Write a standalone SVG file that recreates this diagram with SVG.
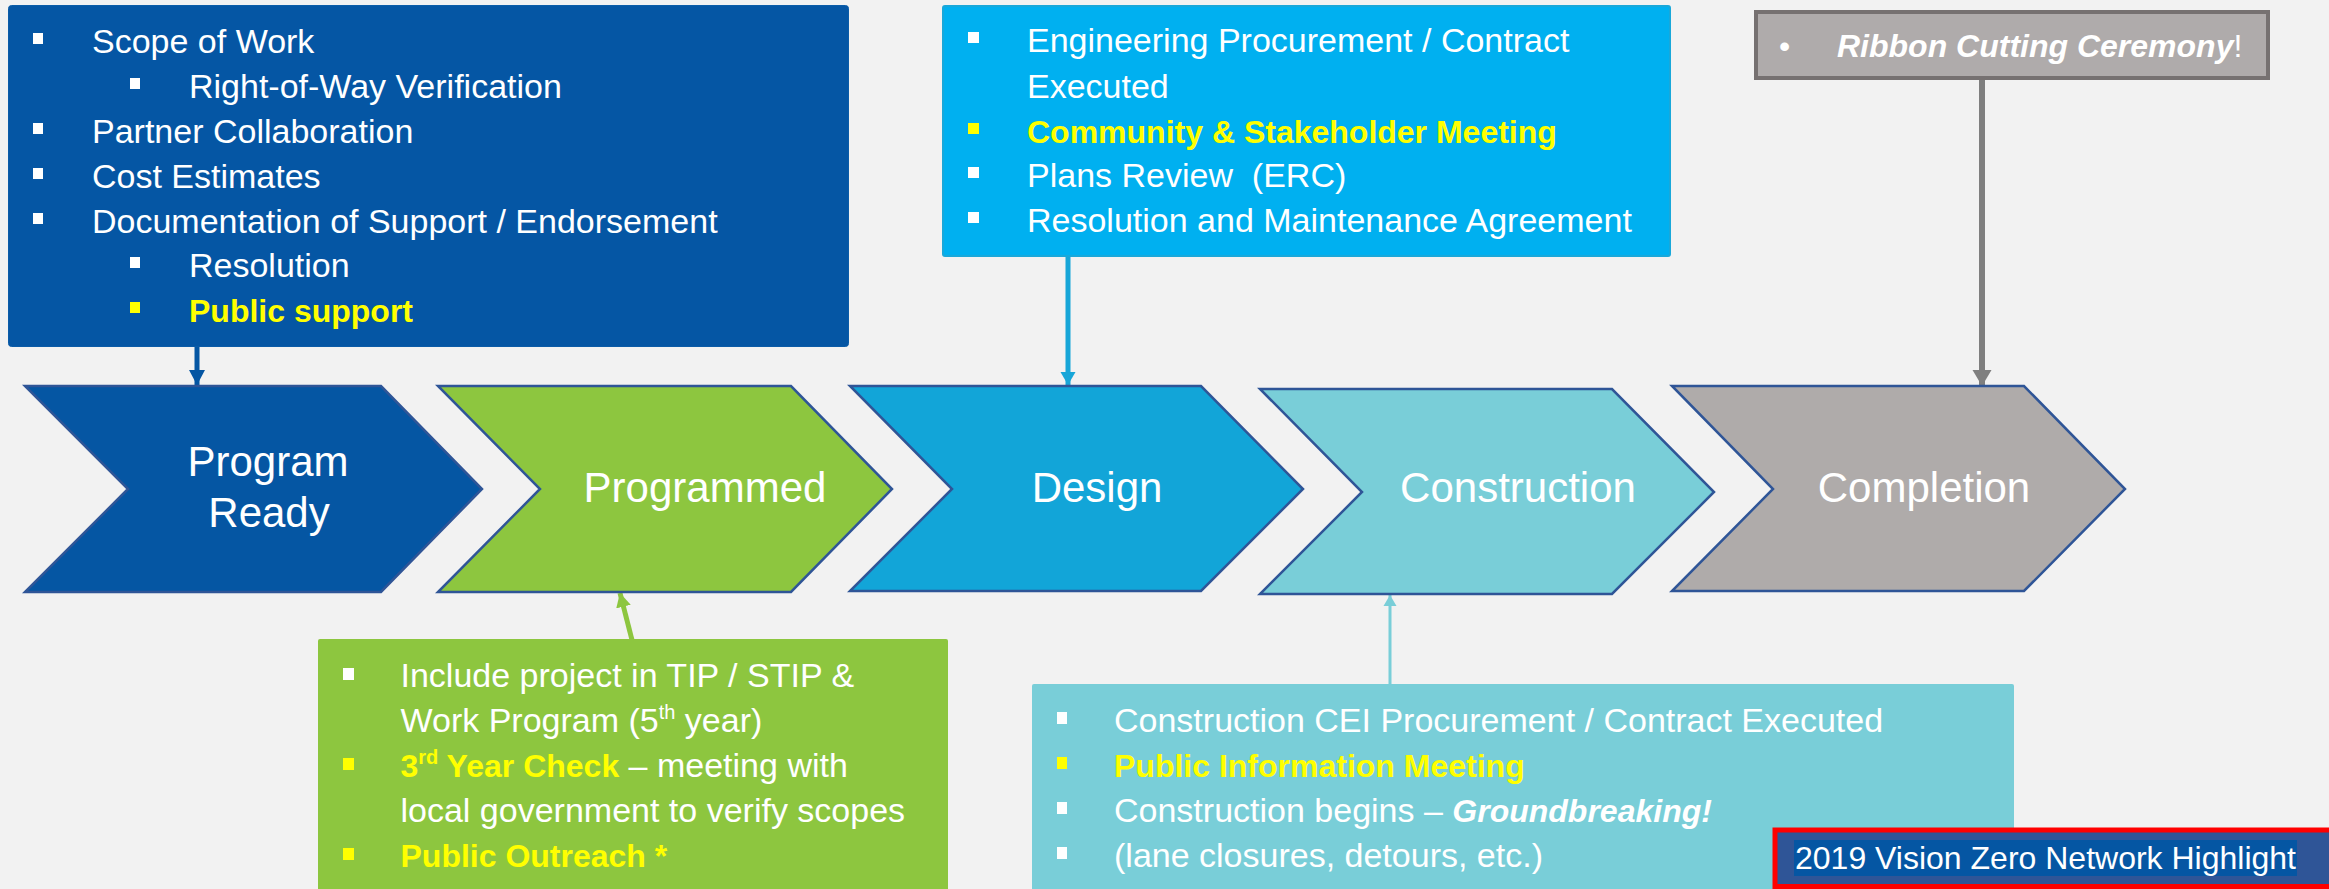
<svg xmlns="http://www.w3.org/2000/svg" width="2329" height="889" viewBox="0 0 2329 889">
<style>
.t{font-family:"Liberation Sans",Arial,sans-serif;fill:#fff;font-size:34px}
.b{font-weight:bold;fill:#FFFF00;font-size:32px}
.lbl{font-family:"Liberation Sans",Arial,sans-serif;fill:#fff;font-size:42px;text-anchor:middle}
.chev{stroke:#2F5597;stroke-width:2.5;stroke-linejoin:miter}
.bw{fill:#fff}
.by{fill:#FFFF00}
.pre{white-space:pre}
</style>
<defs>
<marker id="mBlue" markerUnits="userSpaceOnUse" markerWidth="16" markerHeight="16" refX="15" refY="8" orient="auto"><path d="M0,0 L15,8 L0,16 Z" fill="#0556A3"/></marker>
<marker id="mDesign" markerUnits="userSpaceOnUse" markerWidth="16" markerHeight="16" refX="13" refY="8" orient="auto"><path d="M0,0.5 L13,8 L0,15.5 Z" fill="#17A6D8"/></marker>
<marker id="mGrey" markerUnits="userSpaceOnUse" markerWidth="20" markerHeight="20" refX="16" refY="10" orient="auto"><path d="M0,0.5 L16,10 L0,19.5 Z" fill="#7F7F7F"/></marker>
<marker id="mGreen" markerUnits="userSpaceOnUse" markerWidth="16" markerHeight="16" refX="14" refY="8" orient="auto"><path d="M0,0.5 L14,8 L0,15.5 Z" fill="#8DC63F"/></marker>
<marker id="mTeal" markerUnits="userSpaceOnUse" markerWidth="14" markerHeight="14" refX="11" refY="7" orient="auto"><path d="M0,0.5 L11,7 L0,13.5 Z" fill="#79CED8"/></marker>
</defs>
<rect width="2329" height="889" fill="#F2F2F2"/>

<g id="connectors" fill="none">
<line x1="197" y1="347" x2="197" y2="385" stroke="#0556A3" stroke-width="5" marker-end="url(#mBlue)"/>
<line x1="1068" y1="256" x2="1068" y2="385" stroke="#17A6D8" stroke-width="5" marker-end="url(#mDesign)"/>
<line x1="1982" y1="80" x2="1982" y2="386" stroke="#7F7F7F" stroke-width="6" marker-end="url(#mGrey)"/>
<line x1="632" y1="640" x2="620" y2="593" stroke="#8DC63F" stroke-width="5" marker-end="url(#mGreen)"/>
<line x1="1390" y1="684" x2="1390" y2="595" stroke="#79CED8" stroke-width="3" marker-end="url(#mTeal)"/>
</g>

<g id="program-ready">
<path class="chev" fill="#0556A3" d="M25,386 L381,386 L482,489 L381,592 L25,592 L128,489 Z"/>
<text class="lbl" x="268" y="476">Program</text>
<text class="lbl" x="269" y="527">Ready</text>
</g>
<g id="programmed">
<path class="chev" fill="#8DC63F" d="M438,386 L791,386 L892,489 L791,592 L438,592 L540,489 Z"/>
<text class="lbl" x="705" y="502">Programmed</text>
</g>
<g id="design">
<path class="chev" fill="#12A5D8" d="M850,386 L1201,386 L1303,489 L1201,591 L850,591 L952,489 Z"/>
<text class="lbl" x="1097" y="502">Design</text>
</g>
<g id="construction">
<path class="chev" fill="#79CED8" d="M1260,389 L1612,389 L1714,492 L1612,594 L1260,594 L1362,492 Z"/>
<text class="lbl" x="1518" y="502">Construction</text>
</g>
<g id="completion">
<path class="chev" fill="#AFABAA" d="M1672,386 L2024,386 L2125,489 L2024,591 L1672,591 L1773,489 Z"/>
<text class="lbl" x="1924" y="502">Completion</text>
</g>

<g id="program-ready-notes">
<rect x="8.5" y="5.5" width="840" height="341" rx="3" fill="#0556A4" stroke="#0B5CA8" stroke-width="1"/>
<rect class="bw" x="33" y="33" width="10" height="11"/>
<text class="t" x="92" y="53">Scope of Work</text>
<rect class="bw" x="130" y="78" width="10" height="11"/>
<text class="t" x="189" y="98">Right-of-Way Verification</text>
<rect class="bw" x="33" y="123" width="10" height="11"/>
<text class="t" x="92" y="143">Partner Collaboration</text>
<rect class="bw" x="33" y="168" width="10" height="11"/>
<text class="t" x="92" y="188">Cost Estimates</text>
<rect class="bw" x="33" y="213" width="10" height="11"/>
<text class="t" x="92" y="233">Documentation of Support / Endorsement</text>
<rect class="bw" x="130" y="257" width="10" height="11"/>
<text class="t" x="189" y="277">Resolution</text>
<rect class="by" x="130" y="302" width="10" height="11"/>
<text class="t b" x="189" y="322">Public support</text>
</g>

<g id="design-notes">
<rect x="943" y="6" width="727" height="250" rx="2" fill="#00B0F0" stroke="#19A8DA" stroke-width="2"/>
<rect class="bw" x="968" y="32" width="11" height="11"/>
<text class="t" x="1027" y="52">Engineering Procurement / Contract</text>
<text class="t" x="1027" y="98">Executed</text>
<rect class="by" x="968" y="123" width="11" height="11"/>
<text class="t b" x="1027" y="143">Community &amp; Stakeholder Meeting</text>
<rect class="bw" x="968" y="167" width="11" height="11"/>
<text class="t pre" x="1027" y="187">Plans Review  (ERC)</text>
<rect class="bw" x="968" y="212" width="11" height="11"/>
<text class="t" x="1027" y="232">Resolution and Maintenance Agreement</text>
</g>

<g id="completion-notes">
<rect x="1756" y="12" width="512" height="66" fill="#AFABAB" stroke="#767171" stroke-width="4"/>
<text class="t" x="1779" y="57" style="font-size:32px">•</text>
<text class="t" x="1837" y="57" style="font-size:32px"><tspan font-weight="bold" font-style="italic">Ribbon Cutting Ceremony</tspan>!</text>
</g>

<g id="programmed-notes">
<rect x="318" y="639" width="630" height="260" rx="2" fill="#8DC63F"/>
<rect class="bw" x="343" y="668" width="11" height="12"/>
<text class="t" x="400.5" y="687">Include project in TIP / STIP &amp;</text>
<text class="t" x="400.5" y="732">Work Program (5<tspan font-size="20" dy="-13">th</tspan><tspan dy="13"> year)</tspan></text>
<rect class="by" x="343" y="758" width="11" height="12"/>
<text class="t" x="400.5" y="777"><tspan class="b">3<tspan font-size="20" dy="-13">rd</tspan><tspan dy="13"> Year Check</tspan></tspan> – meeting with</text>
<text class="t" x="400.5" y="822">local government to verify scopes</text>
<rect class="by" x="343" y="848" width="11" height="12"/>
<text class="t b" x="400.5" y="867">Public Outreach *</text>
</g>

<g id="construction-notes">
<rect x="1032" y="684" width="982" height="215" rx="2" fill="#79CED8"/>
<rect class="bw" x="1057" y="712" width="10" height="12"/>
<text class="t" x="1114" y="732">Construction CEI Procurement / Contract Executed</text>
<rect class="by" x="1057" y="757" width="10" height="12"/>
<text class="t b" x="1114" y="777">Public Information Meeting</text>
<rect class="bw" x="1057" y="802" width="10" height="12"/>
<text class="t" x="1114" y="822">Construction begins – <tspan font-weight="bold" font-style="italic" font-size="32">Groundbreaking!</tspan></text>
<rect class="bw" x="1057" y="847" width="10" height="12"/>
<text class="t" x="1114" y="867">(lane closures, detours, etc.)</text>
</g>

<g id="highlight-label">
<rect x="1775" y="830" width="570" height="56.5" fill="#2F5597" stroke="#FF0000" stroke-width="5"/>
<rect x="1794" y="840" width="503" height="36" fill="#0556A3"/>
<text x="1795" y="869" style="font-family:'Liberation Sans',Arial,sans-serif;font-size:32px;fill:#fff">2019 Vision Zero Network Highlight</text>
</g>
</svg>
